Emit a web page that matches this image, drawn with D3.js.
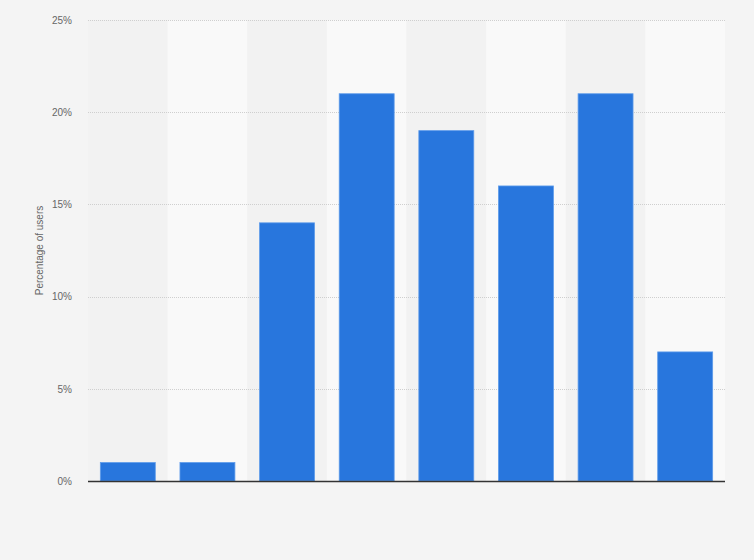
<!DOCTYPE html>
<html>
<head>
<meta charset="utf-8">
<script src="https://cdn.jsdelivr.net/npm/d3@7"></script>
<style>
  html, body { margin: 0; padding: 0; background: #f4f4f4; }
  svg { display: block; }
  .tick text { font-family: "Liberation Sans", Arial, sans-serif; font-size: 10px; fill: #666; }
</style>
</head>
<body>
<div id="chart"></div>
<script>
// categories (x labels are not shown in the picture)
const categories = ['c1', 'c2', 'c3', 'c4', 'c5', 'c6', 'c7', 'c8'];
// share of users, percent
const values = [1, 1, 14, 21, 19, 16, 21, 7];
const yTicks = [0, 5, 10, 15, 20, 25];

const width = 754, height = 560;
const margin = { top: 20, right: 29, bottom: 79, left: 88 };
const innerW = width - margin.left - margin.right;
const innerH = height - margin.top - margin.bottom;

const svg = d3.select('#chart').append('svg')
    .attr('width', width)
    .attr('height', height);

const g = svg.append('g')
    .attr('transform', `translate(${margin.left},${margin.top})`);

const x = d3.scaleBand()
    .domain(categories)
    .range([0, innerW])
    .paddingInner(0.31)
    .paddingOuter(0.155);

const xBand = d3.scaleBand()
    .domain(categories)
    .range([0, innerW]);

const y = d3.scaleLinear()
    .domain([0, 25])
    .range([innerH, 0]);

// alternating column backgrounds
g.selectAll('rect.band')
    .data(categories)
    .join('rect')
    .attr('class', 'band')
    .attr('x', d => xBand(d))
    .attr('y', 0)
    .attr('width', xBand.bandwidth())
    .attr('height', innerH)
    .attr('fill', (d, i) => i % 2 ? '#f9f9f9' : '#f2f2f2');

// gridlines
g.append('g')
    .selectAll('line')
    .data(yTicks.filter(t => t > 0))
    .join('line')
    .attr('x1', 0)
    .attr('x2', innerW)
    .attr('y1', d => Math.round(y(d)) + 0.5)
    .attr('y2', d => Math.round(y(d)) + 0.5)
    .attr('stroke', '#cfcfcf')
    .attr('stroke-width', 1)
    .attr('stroke-dasharray', '1,1');

// y axis labels
const yAxis = g.append('g')
    .call(d3.axisLeft(y).tickValues(yTicks).tickFormat(d => d + '%').tickSize(0).tickPadding(16));
yAxis.select('.domain').remove();

// bars
g.selectAll('rect.bar')
    .data(values)
    .join('rect')
    .attr('class', 'bar')
    .attr('x', (d, i) => x(categories[i]))
    .attr('y', d => y(d))
    .attr('width', x.bandwidth())
    .attr('height', d => innerH - y(d))
    .attr('fill', '#2876dd')
    .attr('stroke', '#5d9bea')
    .attr('stroke-width', 0.8);

// x axis line
g.append('line')
    .attr('x1', 0)
    .attr('x2', innerW)
    .attr('y1', innerH + 0.5)
    .attr('y2', innerH + 0.5)
    .attr('stroke', '#333')
    .attr('stroke-width', 1.5);

// y axis title
svg.append('text')
    .attr('transform', `translate(43,${margin.top + innerH / 2}) rotate(-90)`)
    .attr('text-anchor', 'middle')
    .attr('font-family', '"Liberation Sans", Arial, sans-serif')
    .attr('font-size', 10)
    .attr('fill', '#666')
    .text('Percentage of users');
</script>
</body>
</html>
